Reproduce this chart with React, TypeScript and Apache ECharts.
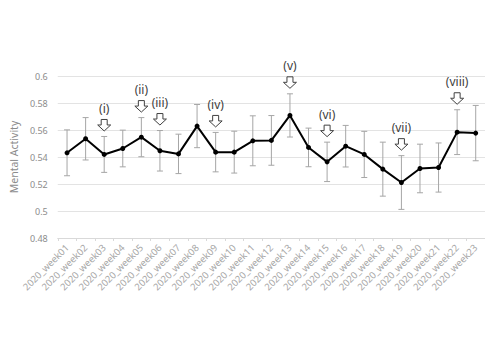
import React, { useEffect, useRef } from "react";
import * as echarts from "echarts";

const weeks = [
  "2020_week01", "2020_week02", "2020_week03", "2020_week04", "2020_week05", "2020_week06",
  "2020_week07", "2020_week08", "2020_week09", "2020_week10", "2020_week11", "2020_week12",
  "2020_week13", "2020_week14", "2020_week15", "2020_week16", "2020_week17", "2020_week18",
  "2020_week19", "2020_week20", "2020_week21", "2020_week22", "2020_week23",
];
const meanValues = [
  0.5431, 0.5535, 0.5419, 0.5463, 0.5547, 0.5446, 0.5423, 0.5629, 0.5436, 0.5436, 0.552, 0.5523,
  0.5708, 0.5471, 0.5364, 0.548, 0.5419, 0.531, 0.5211, 0.5315, 0.5322, 0.5584, 0.5577,
];
const errValues = [
  0.017, 0.0157, 0.0133, 0.0136, 0.0145, 0.015, 0.0146, 0.016, 0.0146, 0.0155, 0.0185, 0.0184,
  0.016, 0.0143, 0.0146, 0.0154, 0.0171, 0.02, 0.0199, 0.018, 0.0182, 0.0166, 0.0205,
];
const annotationWeeks = [2, 4, 5, 8, 12, 14, 18, 21];
const annotationLabels = ["(i)", "(ii)", "(iii)", "(iv)", "(v)", "(vi)", "(vii)", "(viii)"];

const FONT = "Noto Sans";

export default function App() {
  const ref = useRef<HTMLDivElement>(null);
  useEffect(() => {
    if (!ref.current) return;
    const chart = echarts.init(ref.current, undefined, { renderer: "svg" });
    const errData = meanValues.map((m, i) => [i, m - errValues[i], m + errValues[i]]);
    const annData = annotationWeeks.map((w, k) => [w, meanValues[w] + errValues[w], annotationLabels[k]]);
    chart.setOption({
      animation: false,
      backgroundColor: "#ffffff",
      grid: { left: 39, right: 0, top: 76, bottom: 122, containLabel: false },
      xAxis: {
        type: "category",
        data: weeks,
        boundaryGap: true,
        axisLine: { lineStyle: { color: "#d9d9d9" } },
        axisTick: { show: true, length: 3, lineStyle: { color: "#d9d9d9" } },
        axisLabel: {
          rotate: 45,
          interval: 0,
          color: "#a6a6a6",
          fontSize: 9.5,
          fontFamily: FONT,
          margin: 8,
        },
      },
      yAxis: {
        type: "value",
        min: 0.48,
        max: 0.6,
        interval: 0.02,
        name: "Mental Activity",
        nameLocation: "middle",
        nameGap: 27,
        nameTextStyle: { color: "#8c8c8c", fontSize: 10.5, fontFamily: FONT },
        axisLine: { show: false },
        axisTick: { show: false },
        axisLabel: { color: "#8c8c8c", fontSize: 9, fontFamily: FONT, margin: 10 },
        splitLine: { lineStyle: { color: "#e3e3e3" } },
      },
      series: [
        {
          type: "custom",
          name: "error",
          data: errData,
          encode: { x: 0, y: [1, 2] },
          z: 1,
          itemStyle: { color: "#a6a6a6" },
          renderItem: (params: any, api: any) => {
            const x = api.value(0);
            const lo = api.coord([x, api.value(1)]);
            const hi = api.coord([x, api.value(2)]);
            const cw = 3;
            const style = { stroke: "#a6a6a6", lineWidth: 1 };
            return {
              type: "group",
              children: [
                { type: "line", shape: { x1: lo[0], y1: lo[1], x2: hi[0], y2: hi[1] }, style },
                { type: "line", shape: { x1: lo[0] - cw, y1: lo[1], x2: lo[0] + cw, y2: lo[1] }, style },
                { type: "line", shape: { x1: hi[0] - cw, y1: hi[1], x2: hi[0] + cw, y2: hi[1] }, style },
              ],
            };
          },
        },
        {
          type: "line",
          name: "mean",
          data: meanValues,
          z: 3,
          symbol: "circle",
          symbolSize: 5,
          itemStyle: { color: "#000000" },
          lineStyle: { color: "#000000", width: 2 },
        },
        {
          type: "custom",
          name: "annotations",
          data: annData,
          encode: { x: 0, y: 1 },
          clip: false,
          z: 4,
          itemStyle: { color: "#404040" },
          renderItem: (params: any, api: any) => {
            const idx = params.dataIndex;
            const p = api.coord([api.value(0), api.value(1)]);
            const x = p[0];
            const bottom = p[1] - 5.5;
            const top = bottom - 11.5;
            const sw = 3;
            const hw = 6.5;
            const mid = top + 5.5;
            return {
              type: "group",
              children: [
                {
                  type: "polygon",
                  shape: {
                    points: [
                      [x - sw, top],
                      [x + sw, top],
                      [x + sw, mid],
                      [x + hw, mid],
                      [x, bottom],
                      [x - hw, mid],
                      [x - sw, mid],
                    ],
                  },
                  style: { fill: "#ffffff", stroke: "#404040", lineWidth: 1 },
                },
                {
                  type: "text",
                  x: x,
                  y: top - 11,
                  style: {
                    text: annData[idx][2],
                    fill: "#404040",
                    fontSize: 12,
                    fontFamily: FONT,
                    align: "center",
                    verticalAlign: "middle",
                  },
                },
              ],
            };
          },
        },
      ],
    });
    return () => chart.dispose();
  }, []);
  return (
    <div
      ref={ref}
      style={{ position: "fixed", left: 0, top: 0, width: 485, height: 360, background: "#fff" }}
    />
  );
}
